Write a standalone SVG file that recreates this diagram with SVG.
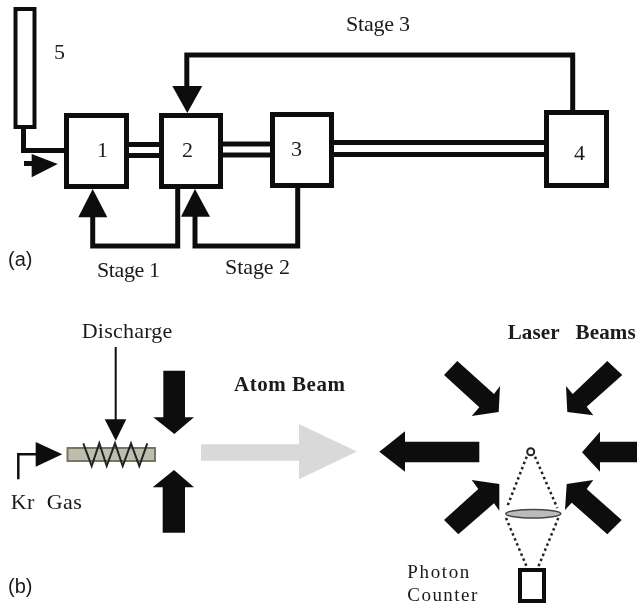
<svg xmlns="http://www.w3.org/2000/svg" width="637" height="605" viewBox="0 0 637 605">
<style>
.box{fill:#fff;stroke:#111;stroke-width:5}
.ln{fill:none;stroke:#111;stroke-width:5}
.thin{fill:none;stroke:#111;stroke-width:2}
.dot{fill:none;stroke:#222;stroke-width:2.500;stroke-dasharray:2.500 3}
.ah{fill:#111;stroke:none}
text{font-family:"Liberation Serif","Times New Roman",serif;font-size:22px;fill:#1a1a1a;white-space:pre}
.b{font-weight:bold;font-size:21px}
.s{font-family:"Liberation Sans",Arial,sans-serif;font-size:20px}
.pc{font-size:19px}
</style>
<defs><filter id="soft" filterUnits="userSpaceOnUse" x="0" y="0" width="637" height="605"><feGaussianBlur stdDeviation="0.45"/></filter></defs>
<rect width="637" height="605" fill="#fff"/>
<g filter="url(#soft)">
<g id="connectors">
<path class="ln" d="M129 144.500H159M129 155.500H159M223 144H270M223 155H270M334 142.500H544M334 154.500H544"/>
<path class="ln" d="M23.500 127V150.500H66"/>
<path class="ln" d="M24 163.500H34"/>
<polygon class="ah" points="31.700,154 57.700,164 31.700,177.300"/>
<path class="ln" d="M92.700 216V246H177.700V187"/>
<polygon class="ah" points="92.700,189 107.300,217.300 78.300,217.300"/>
<path class="ln" d="M195 215V246H297.700V186"/>
<polygon class="ah" points="195,189 210,216.700 181,216.700"/>
<path class="ln" d="M572.700 112V55H186.800V88"/>
<polygon class="ah" points="172.300,86 202.300,86 187.300,113"/>
</g>
<g id="node-5"><rect class="box" x="15.500" y="9" width="19" height="118" style="stroke-width:4"/><text x="54" y="59">5</text></g>
<g id="node-1"><rect class="box" x="66.500" y="115.500" width="60" height="71"/><text x="97" y="157">1</text></g>
<g id="node-2"><rect class="box" x="161.500" y="115.500" width="59" height="71"/><text x="182" y="157">2</text></g>
<g id="node-3"><rect class="box" x="272.500" y="114.500" width="59" height="71"/><text x="291" y="156">3</text></g>
<g id="node-4"><rect class="box" x="546.500" y="112.500" width="60" height="73"/><text x="574" y="160">4</text></g>
<g id="labels-a">
<text x="346" y="31" textLength="64" lengthAdjust="spacing">Stage 3</text>
<text x="97" y="277" textLength="63" lengthAdjust="spacing">Stage 1</text>
<text x="225" y="274" textLength="65" lengthAdjust="spacing">Stage 2</text>
<text class="s" x="8" y="266">(a)</text>
</g>
<g id="source">
<text x="81.700" y="338" textLength="90.600" lengthAdjust="spacing">Discharge</text>
<path class="thin" d="M115.700 347V422"/>
<polygon class="ah" points="104.700,419.300 126.300,419.300 115.700,440.700"/>
<rect x="67.500" y="448" width="87.500" height="13" fill="#bdbdb0" stroke="#77775f" stroke-width="2"/>
<polyline points="83.300,443.300 91.700,466 99.300,443.300 106.700,466 115,443.300 122.700,466 131,443.300 139.300,466 147.300,443.300" fill="none" stroke="#222" stroke-width="2"/>
<path class="ln" d="M18.300 479.300V454.300H37" style="stroke-width:2.500"/>
<polygon class="ah" points="35.700,442 62.300,454.300 35.700,466.700"/>
<text x="10.700" y="509" textLength="71" lengthAdjust="spacing">Kr  Gas</text>
<polygon class="ah" points="163.300,370.700 185,370.700 185,417.300 194,417.300 174.300,434 153.300,417.300 163.300,417.300"/>
<polygon class="ah" points="174,470 194,487.300 185,487.300 185,532.700 162.700,532.700 162.700,487.300 152.700,487.300"/>
<text class="s" x="8" y="593">(b)</text>
</g>
<g id="atom-beam">
<polygon fill="#d9d9d9" points="201,444.300 299,444.300 299,424 357,451.500 299,479.300 299,460.700 201,460.700"/>
<text class="b" x="234" y="391" textLength="111" lengthAdjust="spacing">Atom Beam</text>
</g>
<g id="laser-beams">
<text class="b" x="507.700" y="339" textLength="128" lengthAdjust="spacing">Laser   Beams</text>
<polygon class="ah" points="444,375 457.300,361 494,394 500,386 498.700,412 471.700,416 479.300,407.300"/>
<polygon class="ah" points="622.300,375 607.300,361 572.700,394 566,386 567.300,412 593.300,415.300 586.700,406.700"/>
<polygon class="ah" points="379.300,451.700 405,431.300 405,441.700 479.300,441.700 479.300,462.300 405,462.300 405,471.700"/>
<polygon class="ah" points="582,452.300 600,431.700 600,441.700 637,441.700 637,462.300 600,462.300 600,471.700"/>
<polygon class="ah" points="444,520 458.300,534.300 494,503.300 499.300,510.700 499.300,484 471.700,480 478.300,489"/>
<polygon class="ah" points="621.700,520 607.300,534.300 571.700,502.700 565,510 566.700,484 593.300,480 586.700,489"/>
</g>
<g id="detection">
<circle cx="530.700" cy="451.700" r="3.500" fill="#fff" stroke="#222" stroke-width="2"/>
<path class="dot" d="M526.700 456.700L506.700 508M535 456.700L557.300 508M506 518L526.700 566.700M558.300 518L538.300 566.700"/>
<ellipse cx="533.300" cy="513.700" rx="27.500" ry="4.200" fill="#bbb" stroke="#444" stroke-width="1.500"/>
<rect x="520" y="570" width="24" height="31" fill="#fff" stroke="#111" stroke-width="4"/>
<text class="pc" x="407.300" y="578" textLength="62" lengthAdjust="spacing">Photon</text>
<text class="pc" x="407.300" y="600.500" textLength="70" lengthAdjust="spacing">Counter</text>
</g>
</g>
</svg>
